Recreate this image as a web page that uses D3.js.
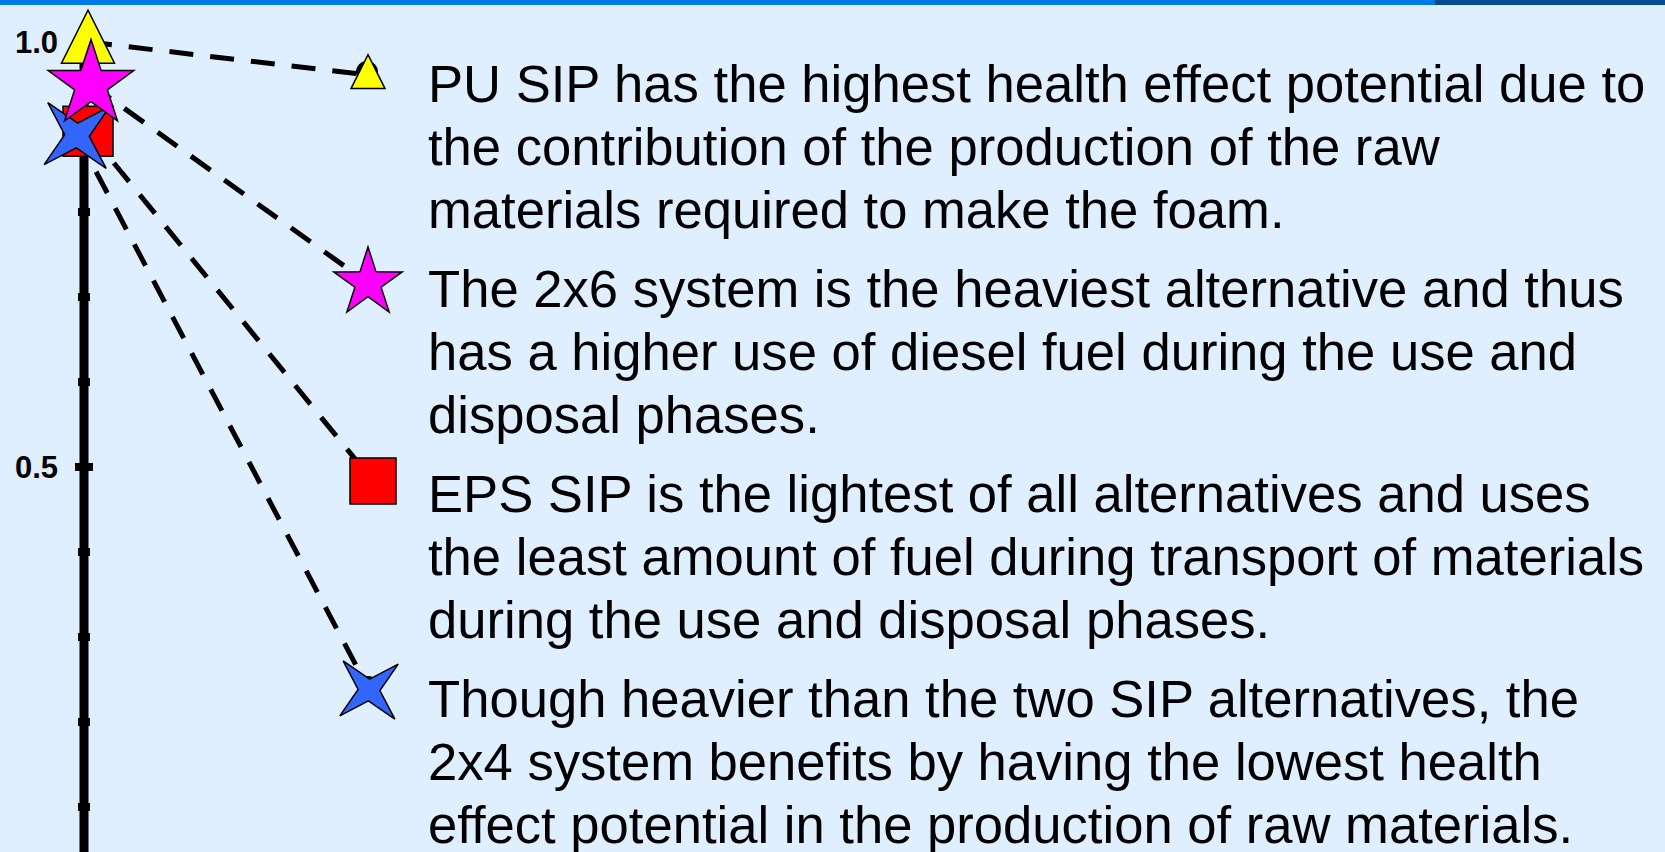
<!DOCTYPE html>
<html>
<head>
<meta charset="utf-8">
<script src="https://cdn.jsdelivr.net/npm/d3@7"></script>
<style>
  body { margin: 0; overflow: hidden; background: #dfefff; }
  text { font-family: "Liberation Sans", Arial, sans-serif; }
</style>
</head>
<body>
<script>
// alternatives and their relative health effect potential (1.0 = highest)
const alternatives = ["PU SIP", "2x6", "EPS SIP", "2x4"];
const healthValues = [1.0, 0.95, 0.895, 0.89];
const markerShapes = ["triangle", "star5", "square", "star4"];
const markerColors = ["#ffff00", "#ff00ff", "#ff0000", "#3366ff"];
const tickValues = [0.1, 0.2, 0.3, 0.4, 0.5, 0.6, 0.7, 0.8, 0.9, 1.0];
const tickLabels = { "0.5": "0.5", "1": "1.0" };

const notes = [
  ["PU SIP has the highest health effect potential due to",
   "the contribution of the production of the raw",
   "materials required to make the foam."],
  ["The 2x6 system is the heaviest alternative and thus",
   "has a higher use of diesel fuel during the use and",
   "disposal phases."],
  ["EPS SIP is the lightest of all alternatives and uses",
   "the least amount of fuel during transport of materials",
   "during the use and disposal phases."],
  ["Though heavier than the two SIP alternatives, the",
   "2x4 system benefits by having the lowest health",
   "effect potential in the production of raw materials."]
];

const W = 1665, H = 852;
const axisX = 84;
const noteX = 428, noteTop = 102, lineH = 63, paraH = 205;
const keyX = 368;

//scale: 0.5 sits at y=467, 0.1 = 85px
const y = d3.scaleLinear().domain([0, 1]).range([892, 42]);

const svg = d3.select("body").append("svg").attr("width", W).attr("height", H);

//top band
svg.append("rect").attr("x", 0).attr("y", 0).attr("width", W).attr("height", 5).attr("fill", "#0078e6");
svg.append("rect").attr("x", 1435).attr("y", 0).attr("width", W - 1435).attr("height", 5).attr("fill", "#004c99");

//axis line + ticks
svg.append("line").attr("x1", axisX).attr("x2", axisX)
  .attr("y1", y(1)).attr("y2", H).attr("stroke", "#000").attr("stroke-width", 9);

svg.selectAll(".tick").data(tickValues).enter().append("line")
  .attr("class", "tick")
  .attr("x1", d => axisX - (d === 0.5 ? 9 : 6))
  .attr("x2", d => axisX + (d === 0.5 ? 9 : 6))
  .attr("y1", d => y(d)).attr("y2", d => y(d))
  .attr("stroke", "#000").attr("stroke-width", 8);

svg.selectAll(".tickLabel").data(tickValues.filter(d => tickLabels[String(d)])).enter().append("text")
  .attr("class", "tickLabel")
  .attr("x", 58).attr("y", d => y(d) + 11)
  .attr("text-anchor", "end")
  .attr("font-size", 31).attr("font-weight", "bold")
  .text(d => tickLabels[String(d)]);

//marker paths, s = nominal size
function shapePath(shape, s) {
  const p = d3.path();
  if (shape === "triangle") {
    p.moveTo(0, -0.6 * s); p.lineTo(s / 2, 0.4 * s); p.lineTo(-s / 2, 0.4 * s); p.closePath();
  } else if (shape === "square") {
    p.rect(-s / 2, -s / 2, s, s);
  } else if (shape === "star5") {
    const R = s / 2, r = R * 0.382;
    for (let i = 0; i < 10; i++) {
      const a = -Math.PI / 2 + i * Math.PI / 5, rr = i % 2 ? r : R;
      i ? p.lineTo(rr * Math.cos(a), rr * Math.sin(a)) : p.moveTo(rr * Math.cos(a), rr * Math.sin(a));
    }
    p.closePath();
  } else if (shape === "star4") {
    const R = s / 2, r = R * 0.28, rot = Math.PI / 4 + 0.06;
    for (let i = 0; i < 8; i++) {
      const a = rot + i * Math.PI / 4, rr = i % 2 ? r : R;
      i ? p.lineTo(rr * Math.cos(a), rr * Math.sin(a)) : p.moveTo(rr * Math.cos(a), rr * Math.sin(a));
    }
    p.closePath();
  }
  return p.toString();
}

const axisSizes = { triangle: 53, star5: 90, square: 50, star4: 88 };
const keySizes = { triangle: 34, star5: 72, square: 46, star4: 78 };
const axisDx = { triangle: 4, star5: 7, square: 4, star4: -7 };
const keyShift = { triangle: [0, 0], star5: [0, 3], square: [5, -4], star4: [1, 0] };

const data = alternatives.map((name, i) => ({
  name: name,
  value: healthValues[i],
  shape: markerShapes[i],
  color: markerColors[i],
  keyX: keyX + keyShift[markerShapes[i]][0],
  keyY: noteTop + i * paraH - 27 + keyShift[markerShapes[i]][1]
}));

//dashed leaders
svg.selectAll(".leader").data(data).enter().append("line")
  .attr("class", "leader")
  .attr("x1", d => axisX + axisDx[d.shape]).attr("y1", d => y(d.value))
  .attr("x2", d => d.keyX).attr("y2", d => d.keyY)
  .attr("stroke", "#000").attr("stroke-width", 5).attr("stroke-dasharray", "24,17");

svg.selectAll(".blob").data(data).enter().append("circle")
  .attr("class", "blob")
  .attr("cx", d => d.keyX - 1).attr("cy", d => d.keyY - 3).attr("r", 11).attr("fill", "#000");

//markers on the axis (draw order: triangle, square, 2x4, 2x6)
const drawOrder = [0, 2, 3, 1];
svg.selectAll(".axisMark").data(drawOrder.map(i => data[i])).enter().append("path")
  .attr("class", "axisMark")
  .attr("d", d => shapePath(d.shape, axisSizes[d.shape]))
  .attr("transform", d => "translate(" + (axisX + axisDx[d.shape]) + "," + y(d.value) + ")")
  .attr("fill", d => d.color).attr("stroke", "#000").attr("stroke-width", 1.5);

//key markers
svg.selectAll(".keyMark").data(data).enter().append("path")
  .attr("class", "keyMark")
  .attr("d", d => shapePath(d.shape, keySizes[d.shape]))
  .attr("transform", d => "translate(" + d.keyX + "," + d.keyY + ")")
  .attr("fill", d => d.color).attr("stroke", "#000").attr("stroke-width", 1.5);

//notes
notes.forEach((lines, i) => {
  svg.append("g").selectAll("text").data(lines).enter().append("text")
    .attr("x", noteX)
    .attr("y", (d, j) => noteTop + i * paraH + j * lineH)
    .attr("font-size", 52.6).attr("fill", "#000")
    .text(d => d);
});
</script>
</body>
</html>
